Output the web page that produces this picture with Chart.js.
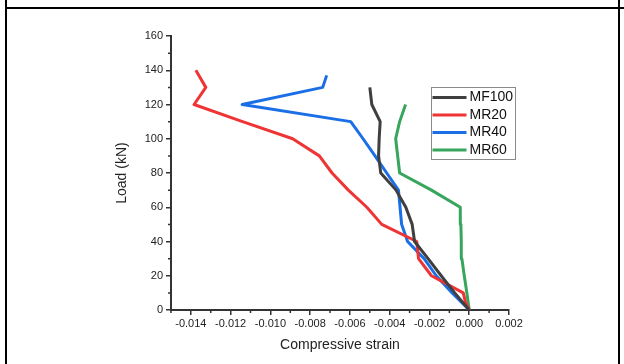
<!DOCTYPE html>
<html><head><meta charset="utf-8">
<script src="https://cdn.jsdelivr.net/npm/chart.js@4/dist/chart.umd.min.js"></script>
<style>
html,body{margin:0;padding:0;background:#fff;width:624px;height:364px;overflow:hidden}
#wrap{position:relative;width:624px;height:364px}
canvas{position:absolute;left:0;top:0}
.bl{position:absolute;background:#000}
</style></head><body>
<div id="wrap">
<canvas id="c" width="624" height="364" style="width:624px;height:364px"></canvas>
<div class="bl" style="left:5px;top:0;width:2px;height:364px"></div>
<div class="bl" style="left:5px;top:7px;width:619px;height:2px"></div>
<div class="bl" style="left:618px;top:0;width:2px;height:364px"></div>
</div>
<script>
// ---- data ----
const seriesNames = ['MF100', 'MR20', 'MR40', 'MR60'];

const loadMF100   = [0, 10, 20, 30, 40, 50, 60, 70, 80, 90, 100, 110, 120, 130];
const strainMF100 = [0, -0.00073, -0.00141, -0.00207, -0.00275, -0.00287, -0.00319, -0.00368, -0.00445, -0.00456, -0.00453, -0.00448, -0.0049, -0.0050];

const loadMR20   = [0, 5, 10, 20, 30, 40, 50, 60, 70, 80, 90, 100, 110, 120, 130, 140];
const strainMR20 = [0, -0.0002, -0.0003, -0.0019, -0.00255, -0.00264, -0.0044, -0.00515, -0.00608, -0.0069, -0.00754, -0.00888, -0.0114, -0.01384, -0.01325, -0.01375];

const loadMR40   = [0, 10, 20, 30, 40, 50, 60, 70, 80, 90, 100, 110, 120, 130, 137];
const strainMR40 = [0, -0.00086, -0.00166, -0.00227, -0.0031, -0.0034, -0.00348, -0.00356, -0.00415, -0.00474, -0.00534, -0.00596, -0.01142, -0.00737, -0.00717];

const loadMR60   = [0, 10, 20, 30, 40, 50, 60, 70, 80, 90, 100, 110, 120];
const strainMR60 = [0, -0.00012, -0.00025, -0.00037, -0.0004, -0.00042, -0.00045, -0.0019, -0.0035, -0.0036, -0.0037, -0.0035, -0.0032];

const xTickValues = [-0.014, -0.012, -0.010, -0.008, -0.006, -0.004, -0.002, 0.000, 0.002];
const xTickLabels = ['-0.014', '-0.012', '-0.010', '-0.008', '-0.006', '-0.004', '-0.002', '0.000', '0.002'];
const xMinorTicks = [-0.015, -0.013, -0.011, -0.009, -0.007, -0.005, -0.003, -0.001, 0.001];
const yTickValues = [0, 20, 40, 60, 80, 100, 120, 140, 160];
const yTickLabels = ['0', '20', '40', '60', '80', '100', '120', '140', '160'];
const yMinorTicks = [10, 30, 50, 70, 90, 110, 130, 150];

const xTitle = 'Compressive strain';
const yTitle = 'Load (kN)';

// ---- chart ----
const FONT = 'Liberation Sans, Arial, sans-serif';
const colors = ['#3f3f3f', '#ee3434', '#1b6fe6', '#37a65c'];
const pairs = [[strainMF100, loadMF100], [strainMR20, loadMR20], [strainMR40, loadMR40], [strainMR60, loadMR60]];

const datasets = pairs.map((p, k) => ({
  label: seriesNames[k],
  data: p[0].map((x, i) => ({x: x, y: p[1][i]})),
  borderColor: colors[k],
  backgroundColor: colors[k],
  borderWidth: 3,
  pointRadius: 0,
  showLine: true,
  tension: 0,
  fill: false,
  borderJoinStyle: 'round',
  borderCapStyle: 'butt'
}));

const AXC = '#333333';

const extras = {
  id: 'extras',
  afterDraw(chart) {
    const ctx = chart.ctx;
    const xs = chart.scales.x, ys = chart.scales.y;
    ctx.save();
    ctx.strokeStyle = AXC;
    ctx.lineWidth = 1.5;
    ctx.beginPath();
    xMinorTicks.forEach(v => {
      const px = xs.getPixelForValue(v);
      ctx.moveTo(px, xs.top); ctx.lineTo(px, xs.top + 3);
    });
    yMinorTicks.forEach(v => {
      const py = ys.getPixelForValue(v);
      ctx.moveTo(ys.right, py); ctx.lineTo(ys.right - 3, py);
    });
    ctx.stroke();

    // legend
    const bx = 431.5, by = 87.5, bw = 84, bh = 72;
    ctx.strokeStyle = '#8a8a8a';
    ctx.lineWidth = 1;
    ctx.strokeRect(bx, by, bw, bh);
    ctx.font = '14px ' + FONT;
    ctx.textBaseline = 'middle';
    ctx.textAlign = 'left';
    chart.data.datasets.forEach((ds, i) => {
      const y = 97.5 + i * 17.5;
      ctx.strokeStyle = ds.borderColor;
      ctx.lineWidth = 3;
      ctx.beginPath();
      ctx.moveTo(bx + 1, y); ctx.lineTo(bx + 35, y);
      ctx.stroke();
      ctx.fillStyle = '#111';
      ctx.fillText(ds.label, bx + 38, y);
    });
    ctx.restore();
  }
};

new Chart(document.getElementById('c'), {
  type: 'scatter',
  data: {datasets: datasets},
  options: {
    responsive: false,
    animation: false,
    layout: {padding: {top: 36, right: 115, bottom: 0, left: 0}},
    plugins: {legend: {display: false}, tooltip: {enabled: false}},
    scales: {
      x: {
        type: 'linear',
        min: -0.015, max: 0.002,
        afterBuildTicks: s => { s.ticks = xTickValues.map(v => ({value: v})); },
        afterFit: s => { s.height = 54; },
        ticks: {
          autoSkip: false, maxRotation: 0, padding: 2,
          color: '#222', font: {family: FONT, size: 11},
          callback: (v, i) => xTickLabels[i]
        },
        grid: {display: true, drawOnChartArea: false, drawTicks: true, tickLength: 5, color: AXC, lineWidth: 1.5},
        border: {display: true, color: AXC, width: 2},
        title: {display: true, text: xTitle, color: '#222', font: {family: FONT, size: 14}, padding: {top: 0, bottom: 10}}
      },
      y: {
        type: 'linear',
        min: 0, max: 160,
        afterBuildTicks: s => { s.ticks = yTickValues.map(v => ({value: v})); },
        afterFit: s => { s.width = 171; },
        ticks: {
          autoSkip: false, padding: 3,
          color: '#222', font: {family: FONT, size: 11},
          callback: (v, i) => yTickLabels[i]
        },
        grid: {display: true, drawOnChartArea: false, drawTicks: true, tickLength: 5, color: AXC, lineWidth: 1.5},
        border: {display: true, color: AXC, width: 2},
        title: {display: true, text: yTitle, color: '#222', font: {family: FONT, size: 14}, padding: {top: 114, bottom: 0}}
      }
    }
  },
  plugins: [extras]
});
</script>
</body></html>
